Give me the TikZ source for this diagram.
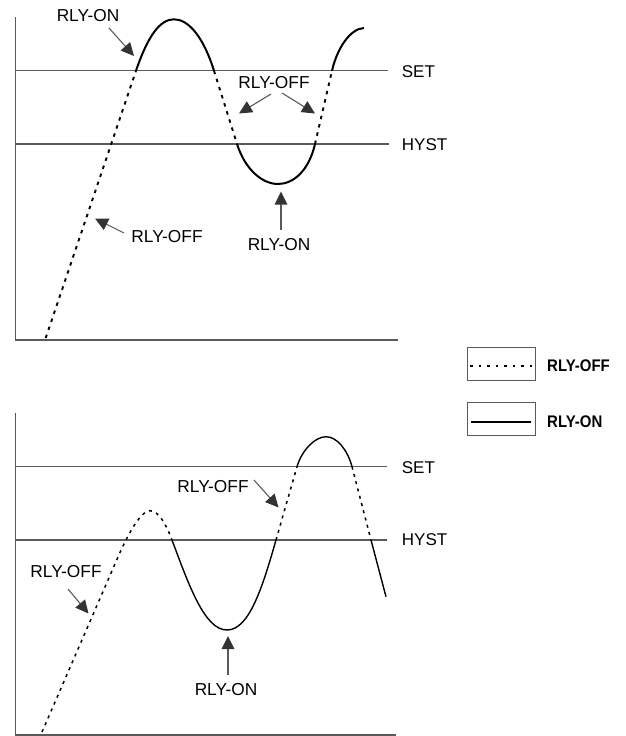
\documentclass[tikz,border=0pt]{standalone}
\usepackage{fontspec}
\usepackage{graphicx}
\setmainfont{Liberation Sans}
\usetikzlibrary{arrows.meta}
\definecolor{axisgray}{HTML}{5A5A5A}
\definecolor{headgray}{HTML}{333333}
\tikzset{
  axisline/.style={draw=axisgray, line width=1.5pt},
  onsolid/.style={draw=black, line width=2pt},
  offdot/.style={draw=black, line width=1.9pt, dash pattern=on 3.5pt off 5pt},
  onsolidb/.style={draw=black, line width=1.4pt},
  offdotb/.style={draw=black, line width=1.5pt, dash pattern=on 3pt off 4.5pt},
  lbl/.style={font=\fontsize{17.3}{20}\selectfont, inner sep=0pt},
  levlbl/.style={font=\fontsize{17}{20}\selectfont, inner sep=0pt, anchor=west},
  legtxt/.style={font=\fontsize{16.8}{20}\selectfont\bfseries, inner sep=0pt, anchor=west},
  pointer/.style={draw=axisgray, line width=1.1pt, -{Triangle[length=13pt,width=12.5pt,fill=headgray,color=headgray]}},
  legbox/.style={draw=axisgray, line width=0.9pt},
}
\begin{document}
\begin{tikzpicture}[x=1pt,y=-1pt]
\useasboundingbox (0,0) rectangle (626,736);
% ---------- top graph ----------
\coordinate (t0) at (15.7,17);
\coordinate (tO) at (15.7,340);
\coordinate (tX) at (398,340);
\draw[axisline] (t0) -- (tO) -- (tX);
\coordinate (tS0) at (15.7,70.7);
\coordinate (tS1) at (388,70.7);
\coordinate (tH0) at (15.7,144);
\coordinate (tH1) at (389,144);
\draw[axisline] (tS0) -- (tS1);
\draw[axisline] (tH0) -- (tH1);
\node[levlbl] (tset) at (401.7,72) {SET};
\node[levlbl] (thyst) at (401.7,145) {HYST};
% curve
\coordinate (ta) at (45.7,338);
\coordinate (tb) at (136,70.7);
\coordinate (tp) at (174,19.3);
\coordinate (tc) at (214,70.7);
\coordinate (td) at (237,144);
\coordinate (tm) at (278,184);
\coordinate (te) at (315,144);
\coordinate (tf) at (332,70.7);
\coordinate (tg) at (364,28);
\draw[offdot] (ta) -- (tb);
\draw[onsolid] (tb) .. controls (148,35.7) and (160,19.3) .. (tp)
  .. controls (188,19.3) and (203,35.7) .. (tc);
\draw[offdot] (tc) -- (td);
\draw[onsolid] (td) .. controls (245.5,170.6) and (263,184) .. (tm)
  .. controls (293,184) and (308.7,171.3) .. (te);
\draw[offdot] (te) -- (tf);
\draw[onsolid] (tf) .. controls (337,48.7) and (350,28.6) .. (tg);
% labels
\node[lbl] (ton1) at (88,16) {RLY-ON};
\coordinate (ton1a) at (109,28);
\coordinate (ton1b) at (134,56);
\draw[pointer] (ton1a) -- (ton1b);
\node[lbl] (toff2) at (274,83) {RLY-OFF};
\coordinate (toff2a) at (271,94);
\coordinate (toff2b) at (239,113.5);
\coordinate (toff2c) at (282,93);
\coordinate (toff2d) at (315,113.5);
\draw[pointer] (toff2a) -- (toff2b);
\draw[pointer] (toff2c) -- (toff2d);
\node[lbl] (toff1) at (167,237) {RLY-OFF};
\coordinate (toff1a) at (124,233);
\coordinate (toff1b) at (95,218.5);
\draw[pointer] (toff1a) -- (toff1b);
\node[lbl] (ton2) at (279,245) {RLY-ON};
\coordinate (ton2a) at (281,230);
\coordinate (ton2b) at (281,191.5);
\draw[pointer] (ton2a) -- (ton2b);
% ---------- legend ----------
\node[legbox, minimum width=68pt, minimum height=33pt, inner sep=0pt] (box1) at (501,363.5) {};
\node[legbox, minimum width=68pt, minimum height=33pt, inner sep=0pt] (box2) at (501,418.5) {};
\coordinate (l1a) at (470,366);
\coordinate (l1b) at (532,366);
\draw[draw=black, line width=1.2pt, dash pattern=on 2.5pt off 6pt] (l1a) -- (l1b);
\coordinate (l2a) at (471,422);
\coordinate (l2b) at (531,422);
\draw[draw=black, line width=1.4pt] (l2a) -- (l2b);
\node[legtxt] (legoff) at (547,366) {\scalebox{0.89}[1]{RLY-OFF}};
\node[legtxt] (legon) at (547,422) {\scalebox{0.89}[1]{RLY-ON}};
% ---------- bottom graph ----------
\coordinate (b0) at (15.7,413);
\coordinate (bO) at (15.7,735);
\coordinate (bX) at (396,735);
\draw[axisline] (b0) -- (bO) -- (bX);
\coordinate (bS0) at (15.7,466.7);
\coordinate (bS1) at (386.7,466.7);
\coordinate (bH0) at (15.7,540);
\coordinate (bH1) at (387,540);
\draw[axisline] (bS0) -- (bS1);
\draw[axisline] (bH0) -- (bH1);
\node[levlbl] (bset) at (401.7,468) {SET};
\node[levlbl] (bhyst) at (401.7,540) {HYST};
% curve
\coordinate (ba) at (42,732);
\coordinate (bg) at (118,557);
\coordinate (bq) at (150,510.7);
\coordinate (bh) at (172,540);
\coordinate (bn) at (227,630);
\coordinate (bi) at (276,540);
\coordinate (bj) at (297,466.7);
\coordinate (br) at (326,436.7);
\coordinate (bk) at (352,466.7);
\coordinate (bl) at (371,540);
\coordinate (bz) at (386,596.7);
\draw[offdotb] (ba) -- (bg) .. controls (126,538.6) and (140,510.7) .. (bq)
  .. controls (159,510.7) and (166.7,525.9) .. (bh);
\draw[onsolidb] (bh) .. controls (189.5,587) and (205,630) .. (bn)
  .. controls (249,630) and (262.3,588) .. (bi);
\draw[offdotb] (bi) -- (bj);
\draw[onsolidb] (bj) .. controls (301.7,450.4) and (315,436.7) .. (br)
  .. controls (337,436.7) and (347.7,450.2) .. (bk);
\draw[offdotb] (bk) -- (bl);
\draw[onsolidb] (bl) -- (bz);
% labels
\node[lbl] (boff1) at (66,572) {RLY-OFF};
\coordinate (boff1a) at (68,589);
\coordinate (boff1b) at (88.5,613.5);
\draw[pointer] (boff1a) -- (boff1b);
\node[lbl] (boff2) at (213,487) {RLY-OFF};
\coordinate (boff2a) at (254,480);
\coordinate (boff2b) at (278.5,507.5);
\draw[pointer] (boff2a) -- (boff2b);
\node[lbl] (bon) at (226,690) {RLY-ON};
\coordinate (bona) at (228,675);
\coordinate (bonb) at (228,636);
\draw[pointer] (bona) -- (bonb);
\end{tikzpicture}
\end{document}
